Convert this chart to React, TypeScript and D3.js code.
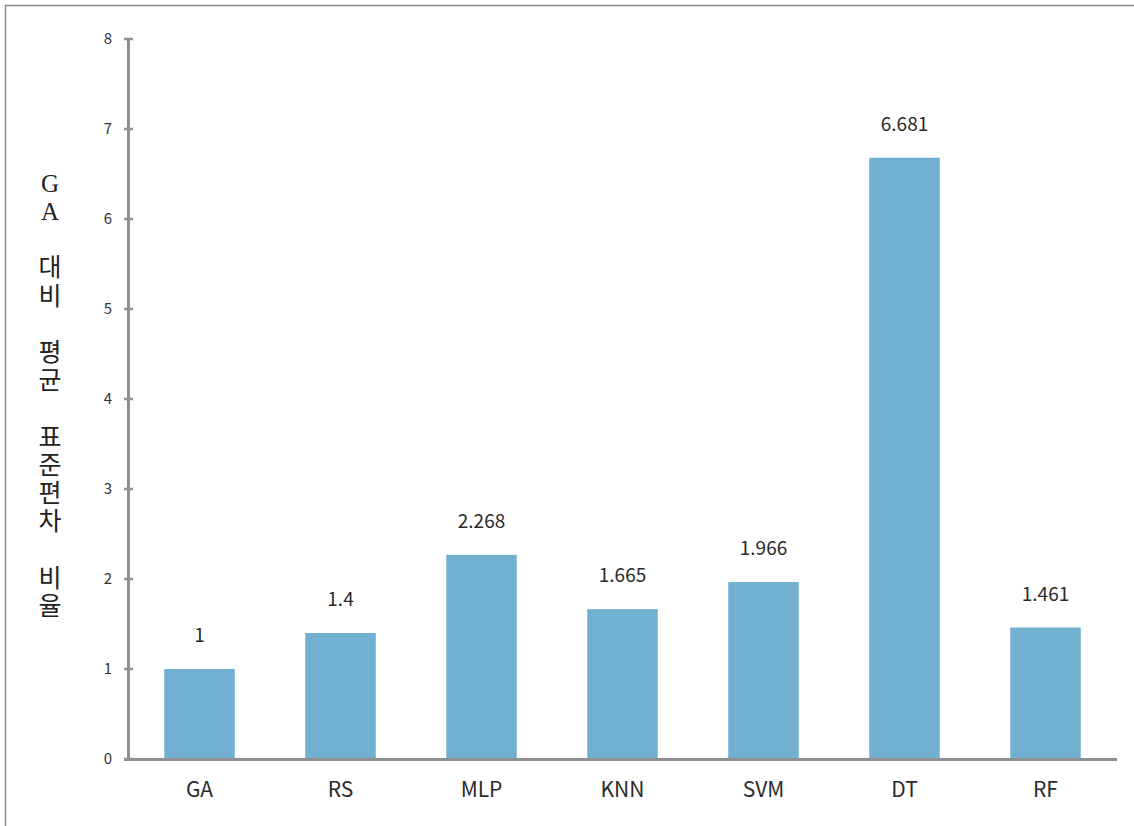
import React from "react";
import * as d3 from "d3";

const categories = ["GA", "RS", "MLP", "KNN", "SVM", "DT", "RF"];
const values = [1, 1.4, 2.268, 1.665, 1.966, 6.681, 1.461];
const valueLabels = ["1", "1.4", "2.268", "1.665", "1.966", "6.681", "1.461"];
const yTicks = [0, 1, 2, 3, 4, 5, 6, 7, 8];
const yTitleLines = ["G", "A", "", "대", "비", "", "평", "균", "", "표", "준", "편", "차", "", "비", "율"];

const W = 1134;
const H = 826;

export default function App() {
  const x = d3
    .scaleBand<string>()
    .domain(categories)
    .range([129, 1116])
    .paddingInner(0.5)
    .paddingOuter(0.25);
  const y = d3.scaleLinear().domain([0, 8]).range([759, 39]);
  const axisColor = "#8f8f8f";
  const sans = "'Noto Sans CJK KR', 'Noto Sans', sans-serif";

  return (
    <svg
      width={W}
      height={H}
      style={{ position: "absolute", left: 0, top: 0, background: "#fff" }}
    >
      <rect x={5.5} y={5.5} width={W + 10} height={H + 10} fill="#fff" stroke="#8a8a8a" strokeWidth={1.5} />
      {/* bars */}
      {categories.map((c, i) => (
        <rect
          key={c}
          x={x(c)!}
          y={y(values[i])}
          width={x.bandwidth()}
          height={y(0) - y(values[i])}
          fill="#71b0d0"
        />
      ))}
      {/* value labels */}
      {categories.map((c, i) => (
        <text
          key={c + "v"}
          x={x(c)! + x.bandwidth() / 2}
          y={y(values[i]) - 27}
          textAnchor="middle"
          fontFamily={sans}
          fontWeight={400}
          fontSize={19}
          fill="#2a2a2a"
        >
          {valueLabels[i]}
        </text>
      ))}
      {/* y axis */}
      <line x1={128.5} x2={128.5} y1={y(8) - 1} y2={y(0)} stroke={axisColor} strokeWidth={3} />
      {yTicks.map((t) => (
        <g key={t}>
          <line x1={124} x2={133} y1={y(t)} y2={y(t)} stroke={axisColor} strokeWidth={2.5} />
          <text
            x={112}
            y={y(t)}
            dy="0.35em"
            textAnchor="end"
            fontFamily={sans}
            fontWeight={400}
            fontSize={15}
            fill="#333"
          >
            {t}
          </text>
        </g>
      ))}
      {/* x axis */}
      <line x1={124} x2={1117} y1={759.5} y2={759.5} stroke={axisColor} strokeWidth={3} />
      {categories.map((c) => (
        <text
          key={c + "x"}
          x={x(c)! + x.bandwidth() / 2}
          y={797}
          textAnchor="middle"
          fontFamily={sans}
          fontWeight={400}
          fontSize={21}
          fill="#2a2a2a"
        >
          {c}
        </text>
      ))}
      {/* y title */}
      {yTitleLines.map((ch, i) => (
        <text
          key={"t" + i}
          x={50}
          y={183 + i * 28.2}
          dy="0.35em"
          textAnchor="middle"
          fontFamily="'Liberation Serif', 'DejaVu Serif', 'Noto Sans CJK KR', serif"
          fontWeight={400}
          fontSize={25}
          fill="#222"
        >
          {ch}
        </text>
      ))}
    </svg>
  );
}
